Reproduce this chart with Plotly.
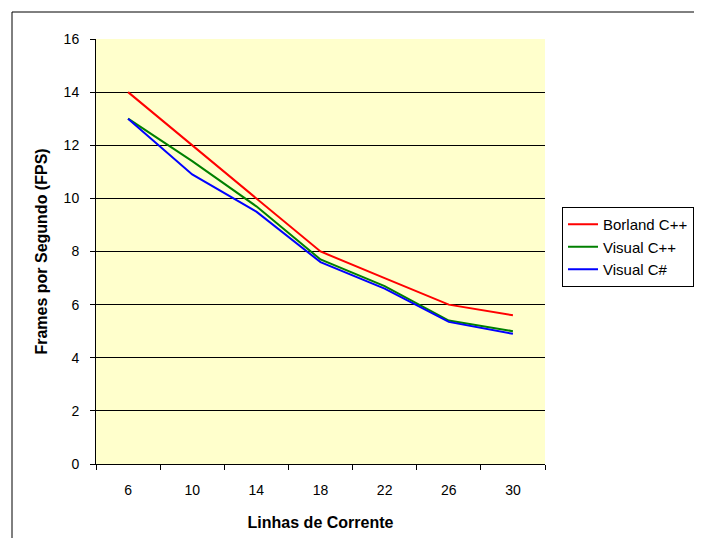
import plotly.graph_objects as go

categories = ["6", "10", "14", "18", "22", "26", "30"]
borland = [14.0, 12.0, 10.0, 8.0, 7.0, 6.0, 5.6]
visual_cpp = [13.0, 11.4, 9.7, 7.7, 6.7, 5.4, 5.0]
visual_cs = [13.0, 10.9, 9.5, 7.6, 6.6, 5.35, 4.9]
y_ticks = [0, 2, 4, 6, 8, 10, 12, 14, 16]
series_names = ["Borland C++", "Visual C++", "Visual C#"]

OFF = 8  # page body margin
W, H = 702 - 2 * OFF, 546 - 2 * OFF
L, R, T, B = 96 - OFF, 545 - OFF, 39 - OFF, 464 - OFF
pw, ph = R - L, B - T

fig = go.Figure()
for name, vals, col in zip(series_names, [borland, visual_cpp, visual_cs],
                           ["#FF0000", "#008000", "#0000FF"]):
    fig.add_trace(go.Scatter(x=categories, y=vals, mode="lines", name=name,
                             line=dict(color=col, width=2), legendgroup=name))

def px_x(p):
    return (p - OFF - L) / pw

def px_y(p):
    return (B - (p - OFF)) / ph

# outer chart-area border (left and top edges visible only)
fig.add_shape(type="line", xref="paper", yref="paper",
              x0=px_x(12), x1=px_x(12), y0=px_y(620), y1=px_y(12),
              line=dict(color="black", width=1), layer="below")
fig.add_shape(type="line", xref="paper", yref="paper",
              x0=px_x(12), x1=px_x(800), y0=px_y(12), y1=px_y(12),
              line=dict(color="black", width=1), layer="below")

fig.update_layout(
    width=W, height=H,
    margin=dict(l=L, r=W - R, t=T, b=H - B, autoexpand=False),
    paper_bgcolor="white",
    plot_bgcolor="#FFFFCC",
    font=dict(family="Liberation Sans, Arial, sans-serif", color="#000000", size=14),
    showlegend=True,
    legend=dict(x=px_x(562), xanchor="left", y=px_y(207), yanchor="top",
                bordercolor="black", borderwidth=1, bgcolor="white",
                font=dict(size=15, color="#000000"), tracegroupgap=6,
                traceorder="normal"),
    xaxis=dict(type="category", tickson="boundaries", ticks="outside", ticklen=5,
               tickcolor="black", showline=True, linecolor="black", linewidth=1,
               showgrid=False, zeroline=False, range=[-0.5, 6.5],
               tickfont=dict(size=14, color="#000000"), ticklabelstandoff=13,
               title=dict(text="<b>Linhas de Corrente</b>", font=dict(size=16), standoff=20)),
    yaxis=dict(range=[0, 16], tickvals=y_ticks, ticks="outside", ticklen=5,
               tickcolor="black", showline=True, linecolor="black", linewidth=1,
               showgrid=True, gridcolor="black", gridwidth=1, zeroline=False,
               tickfont=dict(size=14, color="#000000"), ticklabelstandoff=8,
               title=dict(text="<b>Frames por Segundo (FPS)</b>", font=dict(size=16), standoff=12)),
)

fig.write_html("out.html")
